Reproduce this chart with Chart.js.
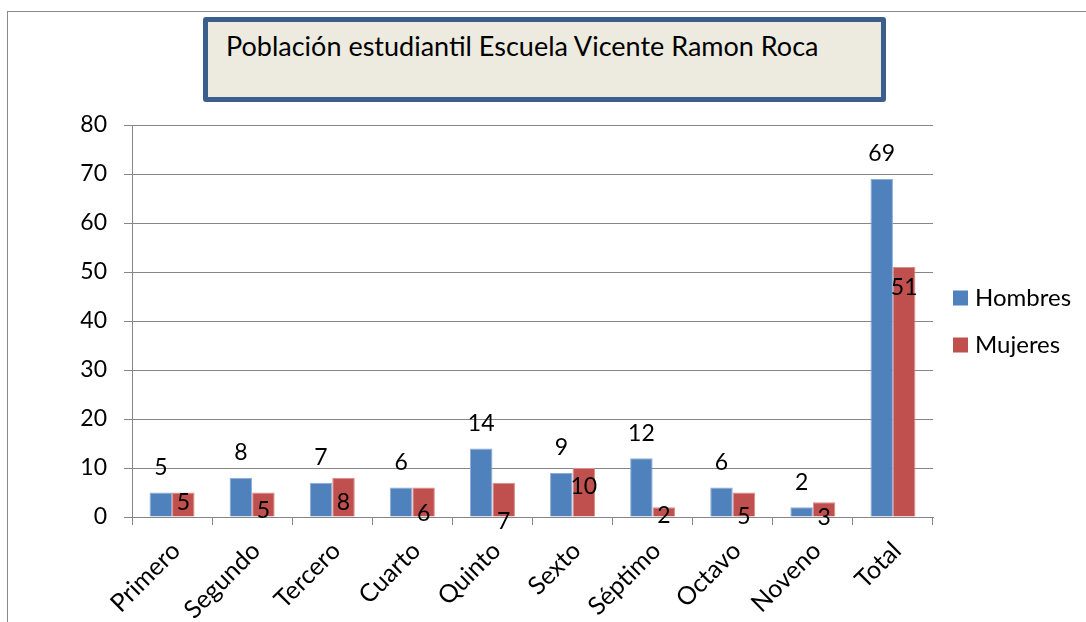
<!DOCTYPE html>
<html>
<head>
<meta charset="utf-8">
<script src="https://cdn.jsdelivr.net/npm/chart.js@4"></script>
<style>
  html, body { margin: 0; padding: 0; background: #ffffff; }
  #wrap { position: relative; width: 1086px; height: 622px; overflow: hidden; }
  #frame { position: absolute; left: 7px; top: 11px; width: 1200px; height: 800px; border: 1px solid #8a8a8a; box-sizing: border-box; }
  #c { position: absolute; left: 0; top: 0; }
  #titleBox { position: absolute; left: 203px; top: 17px; width: 683px; height: 85px; box-sizing: border-box;
    border: 5px solid #3b5e8c; border-radius: 3px; background: #edebe0; }
  #titleText { position: absolute; left: 18px; top: 9px; font-family: Lato, sans-serif; font-size: 27px; line-height: 30px; color: #000; white-space: nowrap; }
</style>
</head>
<body>
<div id="wrap">
  <div id="frame"></div>
  <canvas id="c" width="1086" height="622"></canvas>
  <div id="titleBox"><span id="titleText">Población estudiantil Escuela Vicente Ramon Roca</span></div>
</div>
<script>
const categories = ['Primero', 'Segundo', 'Tercero', 'Cuarto', 'Quinto', 'Sexto', 'Séptimo', 'Octavo', 'Noveno', 'Total'];
const hombres = [5, 8, 7, 6, 14, 9, 12, 6, 2, 69];
const mujeres = [5, 5, 8, 6, 7, 10, 2, 5, 3, 51];
const seriesNames = ['Hombres', 'Mujeres'];
const yMin = 0, yMax = 80, yStep = 10;

const FONT = 'Lato, sans-serif';
const FS = 23;

// per-dataset label placement (pixels relative to the top of each bar; negative = above)
const labelPlugin = {
  id: 'barLabels',
  afterDatasetsDraw(chart, args, opts) {
    const ctx = chart.ctx;
    ctx.save();
    ctx.font = FS + 'px ' + FONT;
    ctx.fillStyle = '#000';
    ctx.textAlign = 'center';
    ctx.textBaseline = 'middle';
    chart.data.datasets.forEach((ds, di) => {
      const meta = chart.getDatasetMeta(di);
      const offs = opts.offsets[di];
      meta.data.forEach((el, i) => {
        const dy = Array.isArray(offs) ? offs[i] : offs;
        ctx.fillText(String(ds.data[i]), el.x, el.y + dy);
      });
    });
    ctx.restore();
  }
};

const legendPlugin = {
  id: 'sideLegend',
  afterDraw(chart, args, opts) {
    const ctx = chart.ctx;
    ctx.save();
    ctx.font = opts.size + 'px ' + FONT;
    ctx.textBaseline = 'middle';
    ctx.textAlign = 'left';
    chart.data.datasets.forEach((ds, i) => {
      const y = opts.y + i * opts.gap;
      ctx.fillStyle = ds.backgroundColor;
      ctx.fillRect(opts.x, y - 7.5, 15, 15);
      ctx.fillStyle = '#000';
      ctx.fillText(ds.label, opts.x + 22, y);
    });
    ctx.restore();
  }
};

new Chart(document.getElementById('c'), {
  type: 'bar',
  data: {
    labels: categories,
    datasets: [
      { label: seriesNames[0], data: hombres, backgroundColor: '#4f81bd', borderColor: '#8eacd6', borderWidth: 1,
        barPercentage: 1, categoryPercentage: 0.562 },
      { label: seriesNames[1], data: mujeres, backgroundColor: '#c0504d', borderColor: '#d98d8b', borderWidth: 1,
        barPercentage: 1, categoryPercentage: 0.562 }
    ]
  },
  options: {
    responsive: false,
    animation: false,
    events: [],
    layout: { padding: { left: 0, top: 125, right: 153, bottom: 0 } },
    plugins: {
      legend: { display: false },
      title: { display: false },
      tooltip: { enabled: false },
      barLabels: { offsets: [-25, [10, 18, 25, 26, 39, 19, 8, 24, 15, 20]] },
      sideLegend: { x: 953, y: 298, gap: 47, size: 24 }
    },
    scales: {
      x: {
        grid: { display: true, drawOnChartArea: false, drawTicks: true, tickLength: 8, color: '#868686', offset: true },
        border: { display: true, color: '#868686', width: 1 },
        ticks: { color: '#000', font: { family: FONT, size: 25 }, maxRotation: 45, minRotation: 45, padding: 11, labelOffset: 4, autoSkip: false },
        afterFit(scale) { scale.height = 105; }
      },
      y: {
        min: yMin, max: yMax,
        grid: { color: '#868686', lineWidth: 1, tickLength: 8, drawTicks: true },
        border: { display: true, color: '#868686', width: 1 },
        ticks: { stepSize: yStep, color: '#000', font: { family: FONT, size: FS }, padding: 17 },
        afterFit(scale) { scale.width = 132; }
      }
    }
  },
  plugins: [labelPlugin, legendPlugin]
});
</script>
</body>
</html>
